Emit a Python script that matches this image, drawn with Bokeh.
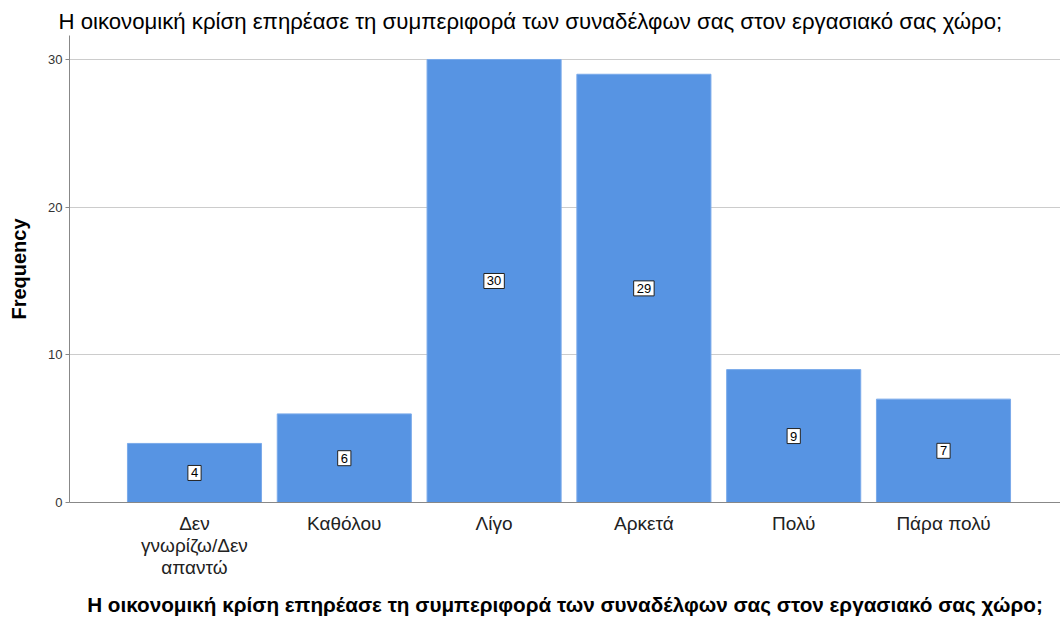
from bokeh.plotting import figure
from bokeh.models import ColumnDataSource, Range1d, FixedTicker, Title
from bokeh.core.properties import value
from bokeh.embed import file_html
from bokeh.resources import INLINE

categories = ["Δεν\nγνωρίζω/Δεν\nαπαντώ", "Καθόλου", "Λίγο", "Αρκετά", "Πολύ", "Πάρα πολύ"]
counts = [4, 6, 30, 29, 9, 7]
y_ticks = [0, 10, 20, 30]
title_text = "Η οικονομική κρίση επηρέασε τη συμπεριφορά των συναδέλφων σας στον εργασιακό σας χώρο;"

xs = list(range(len(categories)))
src = ColumnDataSource(dict(x=xs, top=counts, mid=[c / 2 for c in counts],
                            lab=[str(c) for c in counts]))

p = figure(width=1060, height=619, output_backend="svg", toolbar_location=None,
           x_range=Range1d(-0.8344, 5.781), y_range=Range1d(0, 31.625),
           min_border_left=69, min_border_right=0, min_border_top=35, min_border_bottom=117)
p.title = None
p.outline_line_color = None
p.background_fill_color = "white"
p.border_fill_color = "white"

p.vbar(x="x", top="top", width=0.895, source=src, fill_color="#5794E3",
       line_color="#7AAAEA", line_width=1)

p.text(x="x", y="mid", text="lab", source=src, text_align="center",
       text_baseline="middle", text_font_size="13px", text_font=value("Liberation Sans"),
       text_color="black", background_fill_color="white",
       border_line_color="#222222", border_line_width=1, padding=3)

t = Title(text=title_text, align="left", offset=-11, text_font="Liberation Sans",
          text_font_size="22.2px", text_font_style="normal", text_color="black", standoff=4)
p.add_layout(t, "above")

# axes
p.xaxis.ticker = FixedTicker(ticks=xs)
p.xaxis.major_label_overrides = {i: c for i, c in zip(xs, categories)}
p.xaxis.major_tick_line_color = None
p.xaxis.minor_tick_line_color = None
p.xaxis.axis_line_color = "#888888"
p.xaxis.major_label_text_font = "Liberation Sans"
p.xaxis.major_label_text_font_size = "19px"
p.xaxis.major_label_text_line_height = 1.06
p.xaxis.major_label_text_color = "#222222"
p.xaxis.major_label_standoff = 4
p.xaxis.axis_label = title_text
p.xaxis.axis_label_text_font = "Liberation Sans"
p.xaxis.axis_label_text_font_style = "bold"
p.xaxis.axis_label_text_font_size = "20.7px"
p.xaxis.axis_label_text_color = "black"
p.xaxis.axis_label_standoff = 12

p.yaxis.ticker = FixedTicker(ticks=y_ticks)
p.yaxis.minor_tick_line_color = None
p.yaxis.major_tick_out = 4
p.yaxis.major_tick_in = 0
p.yaxis.major_tick_line_color = "#888888"
p.yaxis.axis_line_color = "#888888"
p.yaxis.major_label_text_font = "Liberation Sans"
p.yaxis.major_label_text_font_size = "13px"
p.yaxis.major_label_text_color = "#333333"
p.yaxis.major_label_standoff = 3
p.yaxis.axis_label = "Frequency"
p.yaxis.axis_label_text_font = "Liberation Sans"
p.yaxis.axis_label_text_font_style = "bold"
p.yaxis.axis_label_text_font_size = "20px"
p.yaxis.axis_label_text_color = "black"
p.yaxis.axis_label_standoff = 15

p.xgrid.grid_line_color = None
p.ygrid.ticker = FixedTicker(ticks=[10, 20, 30])
p.ygrid.grid_line_color = "#CCCCCC"

open("out.html", "w").write(file_html(p, INLINE))
